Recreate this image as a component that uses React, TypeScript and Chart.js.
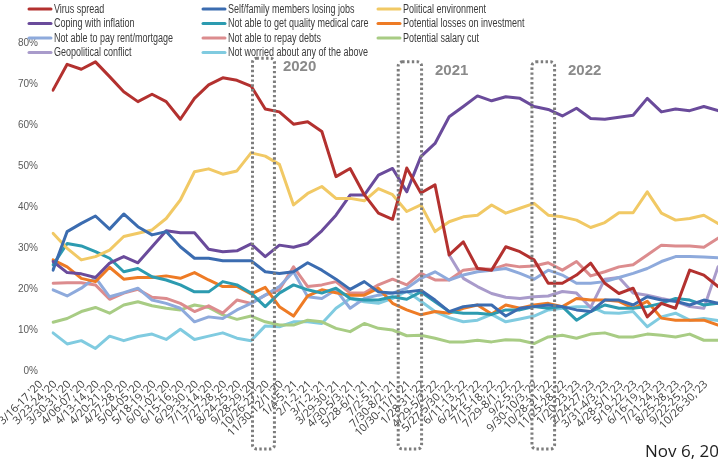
import React, { useEffect, useRef } from 'react';
import { Chart, registerables } from 'chart.js';

Chart.register(...registerables);

// Survey waves (x categories)
const surveyWaves = [
  "3/16-17,'20", "3/23-24,'20", "3/30-31,'20", "4/06-07,'20", "4/13-14,'20", "4/20-21,'20",
  "4/27-28,'20", "5/04-05,'20", "5/18-19,'20", "6/01-02,'20", "6/15-16,'20", "6/29-30,'20",
  "7/13-14,'20", "7/27-28,'20", "8/24-25,'20", "9/28-29,'20", "10/26-27,'20", "11/30-12/1,'20",
  "1/4-5,'21", "2/1-2,'21", "3/1-2,'21", "3/29-30,'21", "4/30-5/3,'21", "5/28-6/1,'21",
  "7/2-5,'21", "7/30-8/2,'21", "10/30-11/1,'21",
  "1/28-31,'22", "4/29-5/2,'22", "5/27-5/30,'22", "6/11-13,'22", "6/24-27,'22", "7/15-18,'22",
  "7/29-8/1,'22", "9/2-5,'22", "9/30-10/3,'22", "10/28-31,'22", "11/25-28,'22",
  "1/20-23,'23", "2/24-27,'23", "3/31-4/3,'23", "4/28-5/1,'23", "5/19-22,'23", "6/16-19,'23",
  "7/21-24,'23", "8/25-28,'23", "9/22-25,'23", "10/26-30,'23",
];

// Share of respondents worried about each issue (%)
const virusSpread = [68.5, 74.8, 73.6, 75.4, 71.8, 68.1, 65.7, 67.5, 65.7, 61.4, 66.5, 69.8, 71.5, 70.9, 69.5, 63.9, 63.2, 60.2, 60.8, 58.4, 47.4, 49.4, 43.0, 38.5, 37.0, 49.5, 43.4, 45.4, 28.3, 31.5, 25.0, 24.6, 30.3, 29.1, 27.1, 21.4, 21.4, 23.4, 26.3, 21.4, 18.9, 20.2, 13.2, 16.5, 15.3, 24.6, 23.4, 20.6];
const losingJobs = [24.6, 34.0, 36.0, 37.8, 34.6, 38.3, 35.2, 33.2, 34.0, 30.3, 27.5, 27.5, 26.9, 26.9, 26.9, 24.2, 23.8, 24.2, 26.4, 24.6, 22.4, 19.9, 21.8, 19.3, 19.0, 19.3, 19.7, 17.3, 14.5, 15.7, 16.1, 16.1, 13.4, 15.3, 15.7, 16.1, 15.7, 14.9, 14.5, 17.3, 17.3, 16.1, 18.1, 17.3, 17.0, 16.1, 17.3, 16.5];
const politicalEnv = [33.6, 29.9, 27.1, 27.9, 29.5, 32.8, 33.6, 34.4, 37.2, 41.7, 48.6, 49.3, 48.0, 48.8, 53.2, 52.4, 50.4, 40.5, 43.3, 45.0, 42.1, 42.1, 41.5, 44.5, 43.0, 38.9, 40.5, 34.0, 36.4, 37.6, 38.0, 40.5, 38.5, 39.7, 40.9, 38.0, 37.6, 36.8, 35.0, 36.2, 38.6, 38.6, 43.7, 38.5, 36.8, 37.2, 38.0, 36.0];
const inflation = [26.7, 24.0, 23.7, 22.8, 26.3, 27.9, 26.4, 30.3, 34.2, 33.7, 33.7, 29.7, 29.1, 29.3, 31.0, 27.9, 30.7, 30.2, 31.1, 34.2, 38.0, 42.9, 42.9, 47.8, 49.4, 43.7, 52.3, 55.5, 62.0, 64.5, 67.1, 65.9, 66.9, 66.5, 64.5, 63.8, 62.2, 64.1, 61.6, 61.4, 61.9, 62.4, 66.5, 63.2, 63.9, 63.5, 64.5, 63.5];
const medicalCare = [25.9, 31.1, 30.5, 29.1, 27.5, 24.2, 25.0, 23.0, 22.2, 21.0, 19.3, 19.3, 21.8, 21.0, 19.0, 15.7, 19.0, 21.0, 19.8, 19.0, 20.2, 17.7, 17.3, 17.3, 18.1, 17.5, 19.3, 16.9, 14.5, 14.1, 14.1, 13.8, 14.9, 14.9, 15.7, 15.3, 15.7, 12.4, 14.5, 16.1, 15.3, 15.3, 15.7, 16.5, 17.7, 17.3, 16.1, 16.5];
const investmentLosses = [27.1, 25.4, 22.6, 21.8, 25.3, 22.4, 22.8, 22.8, 23.2, 22.6, 24.0, 22.2, 20.6, 20.6, 18.8, 20.4, 15.7, 13.4, 18.3, 19.8, 19.1, 18.5, 18.5, 20.2, 16.5, 14.9, 13.7, 14.5, 14.1, 15.3, 16.1, 13.9, 16.1, 15.3, 16.1, 16.5, 15.7, 17.7, 17.3, 17.3, 17.0, 15.3, 17.0, 12.9, 12.4, 12.4, 12.4, 11.2];
const rentMortgage = [19.8, 18.3, 20.2, 22.8, 18.1, 19.1, 20.2, 17.3, 16.5, 15.3, 12.0, 13.2, 12.8, 14.9, 16.5, 18.5, 20.6, 24.2, 18.1, 17.7, 19.8, 15.3, 17.7, 18.5, 19.0, 20.2, 22.6, 24.2, 22.2, 23.4, 24.2, 24.6, 25.0, 23.8, 22.4, 24.6, 23.4, 21.4, 21.4, 21.8, 22.8, 23.8, 25.0, 26.7, 27.9, 27.9, 27.8, 27.6];
const repayDebts = [21.4, 21.5, 21.5, 21.0, 17.5, 19.0, 19.9, 18.0, 17.7, 16.5, 14.5, 15.9, 14.1, 17.3, 16.5, 18.5, 19.8, 25.4, 20.6, 21.0, 21.8, 19.0, 19.0, 21.0, 22.4, 21.0, 23.8, 22.2, 22.2, 24.6, 25.0, 24.8, 25.9, 25.4, 25.6, 26.4, 24.6, 26.7, 23.2, 24.2, 25.4, 25.9, 28.3, 30.7, 30.5, 30.5, 30.2, 32.4];
const salaryCut = [11.9, 12.8, 14.5, 15.5, 14.1, 16.1, 16.9, 15.9, 15.3, 14.9, 16.1, 15.5, 13.7, 12.6, 13.4, 12.0, 11.2, 11.2, 12.4, 12.0, 10.4, 9.6, 11.6, 10.4, 10.0, 8.6, 8.7, 8.0, 7.1, 7.1, 7.5, 7.1, 7.6, 7.5, 6.7, 8.3, 8.7, 8.0, 9.0, 9.3, 8.3, 8.3, 9.0, 8.7, 8.3, 9.0, 7.5, 7.5];
const geopolitical = [null, null, null, null, null, null, null, null, null, null, null, null, null, null, null, null, null, null, null, null, null, null, null, null, null, null, null, null, 28.3, 22.6, 20.6, 18.9, 18.0, 17.7, 18.1, 18.3, 19.4, 19.0, 15.5, 22.4, 22.8, 19.0, 18.5, 17.7, 17.0, 15.7, 15.3, 25.4];
const notWorried = [9.3, 6.6, 7.4, 5.5, 8.5, 7.4, 8.4, 9.0, 7.7, 10.2, 7.7, 8.5, 9.3, 8.0, 7.4, 11.0, 10.8, 12.0, 12.0, 11.6, 15.3, 17.7, 16.9, 16.5, 17.7, 19.5, 17.0, 14.5, 13.0, 12.0, 12.4, 13.8, 12.0, 12.7, 13.4, 14.9, 15.3, 15.7, 15.7, 14.2, 14.1, 14.5, 10.8, 13.2, 14.1, 12.4, 12.8, 12.3];

const seriesNames = [
  'Virus spread', 'Self/family members losing jobs', 'Political environment',
  'Coping with inflation', 'Not able to get quality medical care', 'Potential losses on investment',
  'Not able to pay rent/mortgage', 'Not able to repay debts', 'Potential salary cut',
  'Geopolitical conflict', 'Not worried about any of the above',
];
const seriesValues = [
  virusSpread, losingJobs, politicalEnv,
  inflation, medicalCare, investmentLosses,
  rentMortgage, repayDebts, salaryCut,
  geopolitical, notWorried,
];
const seriesColors = [
  '#B3312F', '#3B6CB0', '#F1C965',
  '#6A4B9B', '#2C9BB0', '#EE7B25',
  '#8EAADC', '#DC8C8E', '#A8CC84',
  '#A99BCB', '#80CBE0',
];

// Y axis ticks (%)
const yTicks = [0, 10, 20, 30, 40, 50, 60, 70, 80];

// Year call-outs: dotted frame spanning category positions, label placed at a category position
const yearFrames = [
  { year: '2020', from: 14.1, to: 15.65, top: 76.3, labelAt: 16.25 },
  { year: '2021', from: 24.4, to: 26.05, top: 75.4, labelAt: 27.0 },
  { year: '2022', from: 33.85, to: 35.45, top: 75.4, labelAt: 36.4 },
];
const frameBottom = -19;
const noteText = 'Nov 6, 2023';

const SANS = '"Liberation Sans", Arial, sans-serif';

function roundedRect(ctx: CanvasRenderingContext2D, x0: number, y0: number, x1: number, y1: number, r: number) {
  ctx.beginPath();
  ctx.moveTo(x0 + r, y0);
  ctx.lineTo(x1 - r, y0);
  ctx.arcTo(x1, y0, x1, y0 + r, r);
  ctx.lineTo(x1, y1 - r);
  ctx.arcTo(x1, y1, x1 - r, y1, r);
  ctx.lineTo(x0 + r, y1);
  ctx.arcTo(x0, y1, x0, y1 - r, r);
  ctx.lineTo(x0, y0 + r);
  ctx.arcTo(x0, y0, x0 + r, y0, r);
  ctx.closePath();
}

const decorPlugin = {
  id: 'decor',
  afterDatasetsDraw(chart: any) {
    const ctx: CanvasRenderingContext2D = chart.ctx;
    const xs = chart.scales.x;
    const ys = chart.scales.y;
    ctx.save();
    for (const f of yearFrames) {
      const x0 = xs.getPixelForValue(f.from);
      const x1 = xs.getPixelForValue(f.to);
      const y0 = ys.getPixelForValue(f.top);
      const y1 = ys.getPixelForValue(frameBottom);
      ctx.strokeStyle = '#7d7d7d';
      ctx.lineWidth = 3;
      ctx.setLineDash([2.4, 2.4]);
      roundedRect(ctx, x0, y0, x1, y1, 4);
      ctx.stroke();
      ctx.setLineDash([]);
      ctx.fillStyle = '#8a8a8a';
      ctx.font = `bold 15px ${SANS}`;
      ctx.textAlign = 'left';
      ctx.textBaseline = 'middle';
      ctx.fillText(f.year, xs.getPixelForValue(f.labelAt), y0 + 9);
    }
    ctx.restore();
  },
  afterDraw(chart: any) {
    const ctx: CanvasRenderingContext2D = chart.ctx;
    ctx.save();
    // three-column legend with condensed lettering
    const colLine = [29, 203, 378];
    const rowY = [9, 23.5, 38, 52.5];
    chart.data.datasets.forEach((ds: any, k: number) => {
      const col = k % 3;
      const row = Math.floor(k / 3);
      const x = colLine[col];
      const y = rowY[row];
      ctx.strokeStyle = ds.borderColor;
      ctx.lineWidth = 3;
      ctx.lineCap = 'round';
      ctx.beginPath();
      ctx.moveTo(x, y);
      ctx.lineTo(x + 22, y);
      ctx.stroke();
      ctx.save();
      ctx.translate(x + 25, y + 0.5);
      ctx.scale(0.75, 1);
      ctx.font = `12px ${SANS}`;
      ctx.textBaseline = 'middle';
      ctx.textAlign = 'left';
      ctx.fillStyle = '#3a3a3a';
      ctx.fillText(ds.label, 0, 0);
      ctx.restore();
    });
    // date note
    ctx.font = '17px "Open Sans", "Liberation Sans", sans-serif';
    ctx.fillStyle = '#1e1e1e';
    ctx.textAlign = 'left';
    ctx.textBaseline = 'middle';
    ctx.fillText(noteText, 645, 452);
    ctx.restore();
  },
};

export default function App() {
  const canvasRef = useRef<HTMLCanvasElement | null>(null);

  useEffect(() => {
    document.body.style.margin = '0';
    const canvas = canvasRef.current;
    if (!canvas) return;
    const chart = new Chart(canvas, {
      type: 'line',
      data: {
        labels: surveyWaves,
        datasets: seriesNames.map((name, i) => ({
          label: name,
          data: seriesValues[i],
          borderColor: seriesColors[i],
          backgroundColor: seriesColors[i],
          borderWidth: 3,
          pointRadius: 0,
          tension: 0,
          borderJoinStyle: 'round' as const,
          borderCapStyle: 'round' as const,
          spanGaps: false,
        })),
      },
      options: {
        responsive: false,
        animation: false,
        layout: { padding: { top: 43, left: 0, right: 0, bottom: 0 } },
        plugins: {
          legend: { display: false },
          tooltip: { enabled: false },
        },
        scales: {
          x: {
            offset: false,
            grid: { display: false, drawTicks: false },
            border: { display: false },
            ticks: {
              autoSkip: false,
              maxRotation: 45,
              minRotation: 45,
              padding: 7,
              labelOffset: -12,
              color: '#3c3c3c',
              font: { size: 11, family: '"Open Sans", "Liberation Sans", sans-serif' },
            },
            afterFit: (scale: any) => {
              scale.height = 89;
              scale.paddingLeft = 0;
              scale.paddingRight = 0;
            },
          },
          y: {
            min: 0,
            max: 80,
            grid: { display: false, drawTicks: false },
            border: { display: false },
            afterBuildTicks: (scale: any) => {
              scale.ticks = yTicks.map((v) => ({ value: v }));
            },
            ticks: {
              padding: 15,
              color: '#5a5a5a',
              font: { size: 10, family: SANS },
              callback: (v: any) => `${v}%`,
            },
            afterFit: (scale: any) => {
              scale.width = 53;
              scale.paddingTop = 0;
              scale.paddingBottom = 0;
            },
          },
        },
      },
      plugins: [decorPlugin],
    });
    return () => chart.destroy();
  }, []);

  return (
    <div style={{ width: 718, height: 460, background: '#fff' }}>
      <canvas ref={canvasRef} width={718} height={460} />
    </div>
  );
}
